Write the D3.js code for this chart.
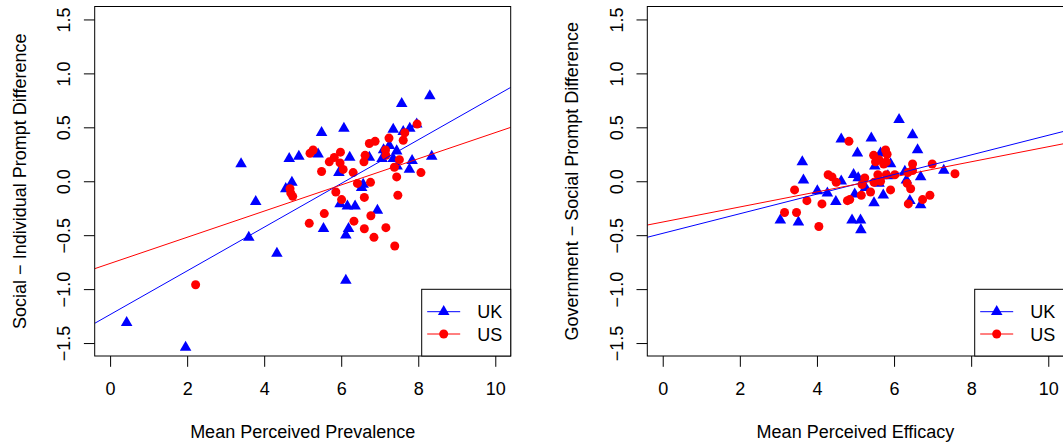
<!DOCTYPE html>
<html>
<head>
<meta charset="utf-8">
<script src="https://cdn.jsdelivr.net/npm/d3@7"></script>
<style>
body { margin: 0; background: #fff; }
svg { display: block; font-family: "Liberation Sans", Arial, sans-serif; }
</style>
</head>
<body>
<svg id="chart" width="1063" height="447"></svg>
<script>
var xTicks = [0, 2, 4, 6, 8, 10];
var yTicks = [-1.5, -1, -0.5, 0, 0.5, 1, 1.5];
var groups = ["UK", "US"];
var colors = ["#0000ff", "#ff0000"];

// left panel: prevalence vs social - individual
var ukPrev = [0.43, 1.96, 3.40, 3.78, 3.60, 4.33, 4.65, 4.90, 4.72, 4.56, 5.49, 5.40, 6.07, 6.22, 5.94, 5.54, 5.97, 6.16, 6.36, 6.19, 6.12, 6.12, 6.94, 6.57, 6.53, 6.73, 7.06, 7.10, 7.25, 7.35, 7.57, 7.44, 7.45, 7.77, 7.84, 7.61, 7.78, 7.96, 8.30, 8.35, 7.35];
var ukPrevDiff = [-1.31, -1.54, 0.16, -0.19, -0.52, -0.67, 0.21, 0.23, -0.01, -0.07, 0.45, 0.25, 0.49, 0.22, 0.08, -0.44, -0.21, -0.23, -0.23, -0.44, -0.50, -0.92, -0.27, -0.03, -0.06, 0.22, 0.21, 0.29, 0.33, 0.48, 0.72, 0.28, 0.14, 0.11, 0.19, 0.46, 0.49, 0.53, 0.79, 0.23, 0.21];
var usPrev = [2.22, 5.19, 5.27, 4.67, 4.69, 4.74, 5.49, 5.69, 5.82, 5.98, 5.97, 6.05, 6.31, 6.42, 5.86, 6.01, 6.60, 6.76, 6.62, 6.59, 6.73, 6.88, 7.15, 7.16, 7.24, 7.38, 7.51, 7.44, 7.47, 7.61, 7.65, 7.97, 8.07, 5.56, 5.17, 6.33, 6.60, 6.77, 6.85, 7.16, 7.39];
var usPrevDiff = [-0.96, 0.26, 0.29, -0.07, -0.11, -0.14, 0.09, 0.18, 0.22, 0.27, 0.17, 0.11, 0.08, -0.02, -0.10, -0.17, -0.15, -0.01, 0.24, 0.18, 0.35, 0.37, 0.29, 0.24, 0.40, 0.13, 0.20, 0.04, -0.13, 0.38, 0.45, 0.53, 0.08, -0.30, -0.39, -0.37, -0.44, -0.32, -0.52, -0.43, -0.60];

// right panel: efficacy vs government - social
var ukEff = [3.05, 3.52, 3.62, 3.65, 4.01, 4.27, 4.49, 4.63, 4.63, 4.91, 5.13, 5.14, 4.95, 5.07, 4.98, 5.05, 5.26, 5.41, 5.48, 5.50, 5.61, 5.65, 5.72, 5.84, 5.91, 6.13, 6.28, 6.32, 6.41, 6.48, 6.61, 6.69, 6.69, 7.29];
var ukEffDiff = [-0.36, -0.38, 0.18, 0.01, -0.09, -0.11, -0.19, 0.39, 0.00, -0.36, -0.36, -0.45, 0.06, 0.03, -0.12, 0.26, -0.06, 0.40, -0.20, 0.14, -0.02, 0.26, -0.13, 0.05, 0.16, 0.57, 0.09, 0.01, -0.18, 0.43, 0.29, 0.04, -0.22, 0.10];
var usEff = [3.16, 3.47, 3.42, 3.74, 4.05, 4.13, 4.29, 4.39, 4.50, 4.83, 4.79, 4.85, 5.17, 5.24, 5.15, 5.39, 5.48, 5.58, 5.47, 5.52, 5.61, 5.78, 5.82, 5.73, 5.80, 5.65, 5.80, 6.02, 5.91, 6.36, 6.34, 6.43, 6.48, 6.48, 6.37, 6.74, 6.93, 6.99, 7.58];
var usEffDiff = [-0.29, -0.29, -0.08, -0.18, -0.42, -0.21, 0.06, 0.04, -0.01, 0.37, -0.18, -0.17, -0.03, 0.03, -0.13, -0.10, -0.01, 0.06, 0.24, 0.18, 0.20, 0.29, 0.25, 0.16, 0.18, 0.00, 0.06, 0.06, -0.08, 0.08, -0.02, -0.07, 0.16, 0.10, -0.21, -0.17, -0.13, 0.16, 0.07];

// fitted lines: [intercept, slope] for UK, US
var prevFit = [[-1.236, 0.2025], [-0.762, 0.1213]];
var effFit = [[-0.483, 0.0909], [-0.378, 0.0698]];

var svg = d3.select("#chart");
var plotTop = 6.5, plotBottom = 356;

var panels = [
	{left: 94.7, right: 510.7, xs: [ukPrev, usPrev], ys: [ukPrevDiff, usPrevDiff], fit: prevFit,
		xLabel: "Mean Perceived Prevalence", yLabel: "Social \u2212 Individual Prompt Difference"},
	{left: 647.3, right: 1063.7, xs: [ukEff, usEff], ys: [ukEffDiff, usEffDiff], fit: effFit,
		xLabel: "Mean Perceived Efficacy", yLabel: "Government \u2212 Social Prompt Difference"}
];

var tri = d3.symbol().type(d3.symbolTriangle).size(58);

function marker(sel, k, cx, cy) {
	if (k == 0) {
		sel.append("path")
			.attr("d", tri())
			.attr("transform", "translate(" + cx + "," + cy + ")")
			.attr("fill", colors[0]);
	} else {
		sel.append("circle")
			.attr("cx", cx).attr("cy", cy).attr("r", 4.5)
			.attr("fill", colors[1]);
	}
}

panels.forEach(function (p, i) {
	var x = d3.scaleLinear().domain([-0.4, 10.4]).range([p.left, p.right]);
	var y = d3.scaleLinear().domain([-1.62, 1.62]).range([plotBottom, plotTop]);
	var g = svg.append("g");

	svg.append("clipPath").attr("id", "clip" + i)
		.append("rect")
		.attr("x", p.left).attr("y", plotTop)
		.attr("width", p.right - p.left).attr("height", plotBottom - plotTop);

	// x axis
	var xa = g.append("g")
		.attr("transform", "translate(0," + plotBottom + ")")
		.call(d3.axisBottom(x).tickValues(xTicks).tickSize(10.8).tickFormat(d3.format("d")));
	xa.select(".domain").remove();
	xa.selectAll("line").attr("stroke", "#000");
	xa.selectAll("text")
		.attr("y", 39).attr("dy", null)
		.attr("fill", "#000").attr("font-size", 18).attr("font-family", null);

	// y axis
	var ya = g.append("g")
		.attr("transform", "translate(" + p.left + ",0)")
		.call(d3.axisLeft(y).tickValues(yTicks).tickSize(10.8).tickFormat(d3.format(".1f")));
	ya.select(".domain").remove();
	ya.selectAll("line").attr("stroke", "#000");
	ya.selectAll("text")
		.attr("x", null).attr("dy", null)
		.attr("text-anchor", "middle")
		.attr("transform", "translate(-24.5,0) rotate(-90)")
		.attr("fill", "#000").attr("font-size", 18).attr("font-family", null);

	// titles
	g.append("text")
		.attr("x", (p.left + p.right) / 2).attr("y", plotBottom + 82)
		.attr("text-anchor", "middle").attr("font-size", 18)
		.text(p.xLabel);
	g.append("text")
		.attr("transform", "translate(" + (p.left - 69) + "," + ((plotTop + plotBottom) / 2) + ") rotate(-90)")
		.attr("text-anchor", "middle").attr("font-size", 18)
		.text(p.yLabel);

	var inner = g.append("g").attr("clip-path", "url(#clip" + i + ")");

	// points
	groups.forEach(function (name, k) {
		p.xs[k].forEach(function (v, j) {
			marker(inner, k, x(v), y(p.ys[k][j]));
		});
	});

	// fitted lines
	groups.forEach(function (name, k) {
		var f = p.fit[k];
		inner.append("line")
			.attr("x1", x(-0.4)).attr("y1", y(f[0] + f[1] * -0.4))
			.attr("x2", x(10.4)).attr("y2", y(f[0] + f[1] * 10.4))
			.attr("stroke", colors[k]).attr("stroke-width", 1);
	});

	// plot box
	g.append("rect")
		.attr("x", p.left).attr("y", plotTop)
		.attr("width", p.right - p.left).attr("height", plotBottom - plotTop)
		.attr("fill", "none").attr("stroke", "#000");

	// legend
	var lg = g.append("g");
	lg.append("rect")
		.attr("x", p.right - 89).attr("y", 289.3)
		.attr("width", 89).attr("height", plotBottom - 289.3)
		.attr("fill", "#fff").attr("stroke", "#000");
	groups.forEach(function (name, k) {
		var ly = 311.7 + k * 22.3;
		lg.append("line")
			.attr("x1", p.right - 83.5).attr("x2", p.right - 50.5)
			.attr("y1", ly).attr("y2", ly)
			.attr("stroke", colors[k]);
		marker(lg, k, p.right - 67, ly);
		lg.append("text")
			.attr("x", p.right - 33.5).attr("y", ly + 6.5)
			.attr("font-size", 18)
			.text(name);
	});
});
</script>
</body>
</html>
